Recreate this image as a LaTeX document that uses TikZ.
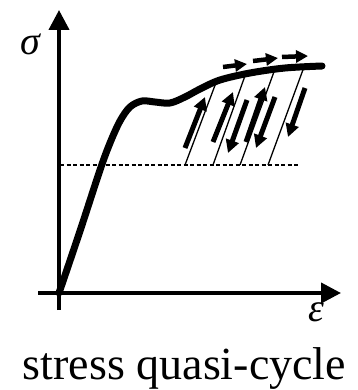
\documentclass[tikz,border=0pt]{standalone}
\usepackage{fontspec}
\setmainfont{Liberation Serif}
\usetikzlibrary{arrows.meta}
\begin{document}
\begin{tikzpicture}[x=1pt,y=-1pt,
  axis/.style={line width=4pt,-{Triangle[length=20pt,width=20pt]}},
  curve/.style={line width=7pt,line cap=round,line join=round},
  thinline/.style={line width=1.3pt},
  bigarrow/.style={line width=5pt,-{Triangle[length=13pt,width=13pt]}},
  toparrow/.style={line width=4.5pt,-{Triangle[length=12pt,width=12pt]}},
  dashline/.style={line width=1.3pt,dash pattern=on 4pt off 2.5pt},
  lbl/.style={inner sep=0pt}]
\useasboundingbox (0,0) rectangle (357,390);
% axes
\coordinate (ybot) at (59,310);
\coordinate (ytop) at (59,10);
\coordinate (xleft) at (38,293);
\coordinate (xright) at (341,293);
\draw[axis] (ybot) -- (ytop);
\draw[axis] (xleft) -- (xright);
\node[lbl] (sigma) at (30,44) {\fontsize{40}{40}\selectfont\itshape σ};
\node[lbl] (eps) at (316,312) {\fontsize{40}{40}\selectfont\itshape ε};
% dashed level
\coordinate (d0) at (60,165);
\coordinate (d1) at (300,165);
\draw[dashline] (d0) -- (d1);
% stress-strain curve
\draw[curve] plot[smooth,tension=0.55] coordinates {(59,293) (80,231) (100,170) (110,143) (120,121) (130,107) (142,101) (155,102) (170,103) (185,97) (200,89) (220,80) (250,73) (285,68) (322,66)};
% unloading lines
\coordinate (b1) at (185,165); \coordinate (t1) at (217,80);
\coordinate (b2) at (213,165); \coordinate (t2) at (246,73);
\coordinate (b3) at (240,165); \coordinate (t3) at (275,69);
\coordinate (b4) at (268,165); \coordinate (t4) at (304,67);
\draw[thinline] (b1) -- (t1);
\draw[thinline] (b2) -- (t2);
\draw[thinline] (b3) -- (t3);
\draw[thinline] (b4) -- (t4);
% thick arrows
\coordinate (a1s) at (185,148); \coordinate (a1e) at (205,97);
\coordinate (a2s) at (213,142); \coordinate (a2e) at (233,92);
\coordinate (a3s) at (247,100); \coordinate (a3e) at (228,153);
\coordinate (a4s) at (246,142); \coordinate (a4e) at (265,87);
\coordinate (a5s) at (275,97);  \coordinate (a5e) at (256,148);
\coordinate (a6s) at (305,88);  \coordinate (a6e) at (288,137);
\draw[bigarrow] (a1s) -- (a1e);
\draw[bigarrow] (a2s) -- (a2e);
\draw[bigarrow] (a3s) -- (a3e);
\draw[bigarrow] (a4s) -- (a4e);
\draw[bigarrow] (a5s) -- (a5e);
\draw[bigarrow] (a6s) -- (a6e);
% top arrows
\coordinate (h1s) at (223,67); \coordinate (h1e) at (247,64);
\coordinate (h2s) at (253,61); \coordinate (h2e) at (278,58);
\coordinate (h3s) at (282,57); \coordinate (h3e) at (308,56);
\draw[toparrow] (h1s) -- (h1e);
\draw[toparrow] (h2s) -- (h2e);
\draw[toparrow] (h3s) -- (h3e);
% caption
\node[lbl,anchor=base] (cap) at (184.5,379) {\fontsize{46}{46}\selectfont stress quasi-cycle};
\end{tikzpicture}
\end{document}
